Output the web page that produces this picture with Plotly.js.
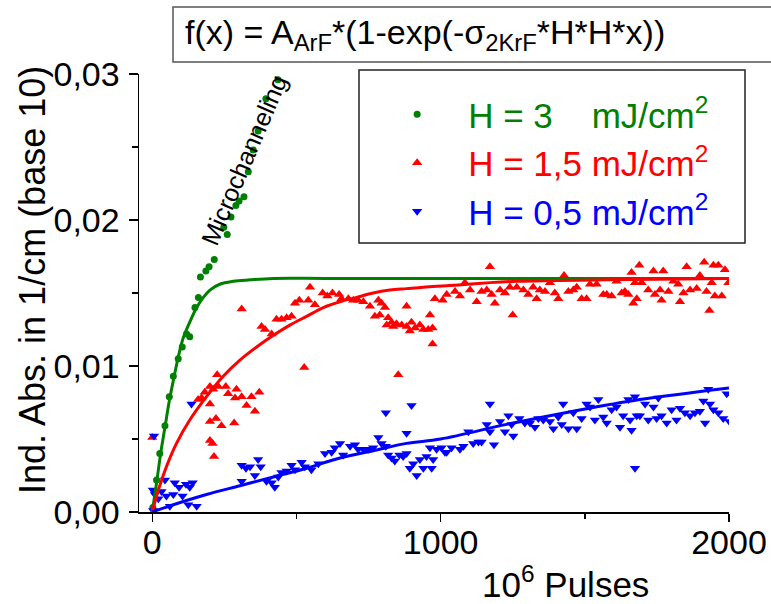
<!DOCTYPE html>
<html>
<head>
<meta charset="utf-8">
<script src="https://cdn.plot.ly/plotly-3.0.1.min.js"></script>
<style>html,body{margin:0;padding:0;background:#fff;}#chart{width:771px;height:604px;}</style>
</head>
<body>
<div id="chart"></div>
<script>
// ---- data ----
var seriesNames = ["H = 3\u00a0\u00a0\u00a0\u00a0mJ/cm<sup>2</sup>", "H = 1,5 mJ/cm<sup>2</sup>", "H = 0,5 mJ/cm<sup>2</sup>"];

var greenX = [2, 15, 26, 44, 59, 73, 90, 104, 119, 130, 148, 160, 167, 186, 197, 215, 248, 260, 273, 290, 301, 318, 333, 350, 367, 394, 436];
var greenY = [0.0003, 0.0022, 0.0040, 0.0059, 0.0079, 0.0093, 0.0105, 0.0113, 0.0122, 0.0120, 0.0140, 0.0147, 0.0161, 0.0165, 0.0168, 0.0173, 0.0195, 0.0190, 0.0202, 0.0210, 0.0213, 0.0216, 0.0233, 0.0248, 0.0261, 0.0283, 0.0296];

var redX = [0, 159, 171, 182, 200, 211, 225, 229, 255, 263, 287, 292, 310, 327, 344, 356, 371, 200, 200, 221, 240, 284, 200, 209, 214,
  310, 379, 391, 414, 431, 448, 466, 483, 527,
  495, 510, 541, 547, 564, 591, 607, 625, 648, 656, 680, 697, 714, 732, 755, 784, 795, 807, 772, 789, 813, 818, 830, 836, 847, 853, 865, 882, 882, 893, 899, 911, 928, 940, 957, 963, 972, 972, 980,
  1007, 1021, 1050, 1067, 1084, 1102, 1125, 1142, 1160, 1171, 1177, 1188, 1206, 1223, 1240, 1250, 1264, 1287, 1304, 1321, 1333, 1344, 1362, 1379, 1396, 1408, 1428, 1443, 1460, 1472, 1489, 1506, 1518, 1541, 1564, 1576, 1593, 1610, 1628, 1639, 1651, 1662, 1668, 1674, 1680, 1689, 1697, 1720, 1738, 1743, 1761, 1766, 1772, 1790, 1807, 1824, 1830, 1842, 1853, 1865, 1888, 1899, 1914, 1922, 1932, 1940, 1946, 1951, 1963, 1975, 1986, 1998];
var redY = [0.0051, 0.0077, 0.0078, 0.0082, 0.0086, 0.0084, 0.0094, 0.0086, 0.0086, 0.0081, 0.0078, 0.0084, 0.0079, 0.0073, 0.0079, 0.0069, 0.0082, 0.0074, 0.0062, 0.0064, 0.0059, 0.0061, 0.0049, 0.0047, 0.0038,
  0.0139, 0.0127, 0.0125, 0.0122, 0.0132, 0.0132, 0.0133, 0.0134, 0.0099,
  0.0143, 0.0145, 0.0145, 0.0154, 0.0142, 0.0150, 0.0148, 0.0150, 0.0149, 0.0146, 0.0146, 0.0145, 0.0145, 0.0144, 0.0141, 0.0145, 0.0143, 0.0140, 0.0134, 0.0135, 0.0128, 0.0133, 0.0130, 0.0127, 0.0129, 0.0094, 0.0128, 0.0141, 0.0127, 0.0124, 0.0130, 0.0126, 0.0128, 0.0125, 0.0125, 0.0135, 0.0126, 0.0115, 0.0146,
  0.0145, 0.0149, 0.0151, 0.0148, 0.0157, 0.0152, 0.0144, 0.0151, 0.0152, 0.0168, 0.0149, 0.0143, 0.0152, 0.0150, 0.0154, 0.0135, 0.0154, 0.0152, 0.0149, 0.0154, 0.0146, 0.0152, 0.0151, 0.0157, 0.0150, 0.0146, 0.0162, 0.0151, 0.0152, 0.0154, 0.0146, 0.0146, 0.0156, 0.0156, 0.0149, 0.0149, 0.0148, 0.0158, 0.0150, 0.0151, 0.0149, 0.0164, 0.0143, 0.0157, 0.0146, 0.0169, 0.0157, 0.0152, 0.0165, 0.0149, 0.0152, 0.0145, 0.0165, 0.0151, 0.0158, 0.0156, 0.0144, 0.0150, 0.0168, 0.0152, 0.0153, 0.0162, 0.0171, 0.0151, 0.0138, 0.0157, 0.0169, 0.0148, 0.0169, 0.0148, 0.0166, 0.0157];

var blueX = [2, 3, 6, 9, 21, 32, 44, 49, 61, 73, 78, 93, 105, 117, 125, 130, 136, 140, 154,
  310, 310, 325, 339, 356, 367, 376, 396, 414, 425, 437, 448, 466, 483, 495, 518, 529, 552, 576, 599, 622, 633, 651, 662, 686, 703, 714, 732, 749, 766, 784, 795, 810, 810, 818, 830, 841, 857, 870, 882, 882, 893, 899, 905, 917, 928, 940, 951, 963, 969, 974, 986, 1003, 1021,
  1015, 1038, 1067, 1079, 1096, 1113, 1131, 1142, 1160, 1171, 1171, 1185, 1206, 1223, 1235, 1246, 1252, 1273, 1292, 1310, 1327, 1339, 1356, 1379, 1391, 1408, 1420, 1425, 1443, 1460, 1472, 1489, 1506, 1518, 1535, 1547, 1564, 1576, 1593, 1610, 1622, 1633, 1651, 1657, 1662, 1674, 1674, 1680, 1691, 1709, 1720, 1738, 1749, 1755, 1766, 1784, 1801, 1818, 1830, 1847, 1865, 1882, 1899, 1911, 1917, 1928, 1934, 1946, 1963, 1980, 1992, 2001];
var blueY = [0.0015, 0.0001, 0.0052, 0.0012, 0.0009, 0.0014, 0.0022, 0.0011, 0.0004, 0.0012, 0.0020, 0.0017, 0.0011, 0.0019, 0.0005, 0.0017, 0.0074, 0.0020, 0.0004,
  0.0032, 0.0021, 0.0030, 0.0031, 0.0025, 0.0036, 0.0031, 0.0021, 0.0020, 0.0017, 0.0024, 0.0027, 0.0028, 0.0032, 0.0029, 0.0034, 0.0031, 0.0029, 0.0033, 0.0040, 0.0041, 0.0044, 0.0047, 0.0039, 0.0045, 0.0046, 0.0043, 0.0043, 0.0043, 0.0044, 0.0051, 0.0047, 0.0045, 0.0068, 0.0039, 0.0037, 0.0035, 0.0039, 0.0038, 0.0040, 0.0054, 0.0030, 0.0073, 0.0033, 0.0025, 0.0036, 0.0030, 0.0038, 0.0044, 0.0030, 0.0036, 0.0043, 0.0044, 0.0041,
  0.0041, 0.0044, 0.0043, 0.0045, 0.0055, 0.0047, 0.0048, 0.0048, 0.0060, 0.0055, 0.0074, 0.0046, 0.0062, 0.0055, 0.0066, 0.0060, 0.0052, 0.0064, 0.0061, 0.0061, 0.0058, 0.0064, 0.0063, 0.0062, 0.0057, 0.0065, 0.0060, 0.0074, 0.0057, 0.0068, 0.0057, 0.0064, 0.0074, 0.0072, 0.0063, 0.0077, 0.0065, 0.0061, 0.0070, 0.0072, 0.0058, 0.0066, 0.0077, 0.0063, 0.0056, 0.0079, 0.0030, 0.0066, 0.0066, 0.0074, 0.0063, 0.0072, 0.0064, 0.0078, 0.0066, 0.0061, 0.0070, 0.0063, 0.0071, 0.0068, 0.0066, 0.0068, 0.0069, 0.0076, 0.0061, 0.0084, 0.0074, 0.0070, 0.0068, 0.0064, 0.0081, 0.0062];

var greenFitX = [0, 15, 29, 44, 59, 73, 90, 107, 130, 154, 177, 200, 234, 281, 339, 420, 600, 1000, 1500, 2000];
var greenFitY = [0, 0.0020, 0.0040, 0.0058, 0.0076, 0.0090, 0.0106, 0.0119, 0.0130, 0.0140, 0.0147, 0.0152, 0.0156, 0.0158, 0.0159, 0.0160, 0.0160, 0.0160, 0.0160, 0.0160];
var redFitX = [0, 21, 49, 84, 130, 188, 246, 304, 362, 420, 477, 535, 593, 651, 709, 766, 824, 882, 940, 1021, 1264, 1576, 2000];
var redFitY = [0, 0.0015, 0.0031, 0.0047, 0.0063, 0.0079, 0.0093, 0.0104, 0.0113, 0.0121, 0.0128, 0.0134, 0.0140, 0.0144, 0.0147, 0.0150, 0.0152, 0.0153, 0.0154, 0.0155, 0.0158, 0.0159, 0.0160];
var blueFitX = [0, 73, 188, 304, 420, 535, 651, 766, 882, 1000, 1229, 1460, 1691, 2000];
var blueFitY = [0, 0.0005, 0.0012, 0.0018, 0.0024, 0.0030, 0.0037, 0.0042, 0.0047, 0.0050, 0.0060, 0.0069, 0.0077, 0.0085];

var yTickVals = [0, 0.01, 0.02, 0.03];
var xTickVals = [0, 1000, 2000];

var formulaText = "f(x) = A<sub>ArF</sub>*(1-exp(-\u03c3<sub>2KrF</sub>*H*H*x))";
var xTitleText = "10<sup>6</sup> Pulses";
var yTitleText = "Ind. Abs. in 1/cm (base 10)";
var noteText = "Microchanneling";

// ---- chart ----
var FONT = "Liberation Sans, Arial, Helvetica, sans-serif";
var GREEN = "#008000", RED = "#ff0000", BLUE = "#0000ff";
var colors = [GREEN, RED, BLUE];
function coloredName(i) { return '<span style="color:' + colors[i] + '">' + seriesNames[i] + '</span>'; }

var traces = [
  {x: greenX, y: greenY, type: "scatter", mode: "markers", name: coloredName(0), legendgroup: "g",
   marker: {symbol: "circle", size: 7, color: GREEN}},
  {x: redX, y: redY, type: "scatter", mode: "markers", name: coloredName(1), legendgroup: "r",
   marker: {symbol: "triangle-up", size: 9, color: RED}},
  {x: blueX, y: blueY, type: "scatter", mode: "markers", name: coloredName(2), legendgroup: "b",
   marker: {symbol: "triangle-down", size: 9, color: BLUE}},
  {x: greenFitX, y: greenFitY, type: "scatter", mode: "lines", showlegend: false,
   line: {color: GREEN, width: 3, shape: "spline"}},
  {x: redFitX, y: redFitY, type: "scatter", mode: "lines", showlegend: false,
   line: {color: RED, width: 3, shape: "spline"}},
  {x: blueFitX, y: blueFitY, type: "scatter", mode: "lines", showlegend: false,
   line: {color: BLUE, width: 3, shape: "spline"}}
];

var layout = {
  width: 771, height: 604,
  margin: {l: 139, r: 42, t: 74, b: 92, pad: 0},
  paper_bgcolor: "#fff", plot_bgcolor: "#fff",
  separators: ", ",
  font: {family: FONT, size: 34, color: "#000"},
  showlegend: true,
  xaxis: {
    range: [-46, 2000], showgrid: false, zeroline: false,
    showline: true, linecolor: "#000", linewidth: 1.5,
    ticks: "outside", ticklen: 8, tickwidth: 1.5, tickcolor: "#000",
    tickmode: "array", tickvals: xTickVals, ticktext: xTickVals.map(String),
    tickfont: {family: FONT, size: 34}, ticklabelstandoff: -8,
    minor: {ticks: "outside", ticklen: 5, tickwidth: 1.5, tickcolor: "#000", dtick: 500, tick0: 0, showgrid: false}
  },
  yaxis: {
    range: [0, 0.03], showgrid: false, zeroline: false,
    showline: true, linecolor: "#000", linewidth: 1.5,
    ticks: "outside", ticklen: 9, tickwidth: 1.5, tickcolor: "#000",
    tickmode: "array", tickvals: yTickVals, ticktext: yTickVals.map(function(v){return v.toFixed(2).replace(".", ",");}),
    tickfont: {family: FONT, size: 34}, ticklabelstandoff: 2,
    minor: {ticks: "outside", ticklen: 6, tickwidth: 1.5, tickcolor: "#000", dtick: 0.005, tick0: 0, showgrid: false}
  },
  legend: {
    x: 0.385, y: 0.975, xanchor: "left", yanchor: "top",
    bgcolor: "rgba(0,0,0,0)", borderwidth: 0,
    font: {family: FONT, size: 35},
    itemwidth: 92, tracegroupgap: 7, traceorder: "normal"
  },
  shapes: [
    {type: "rect", xref: "paper", yref: "paper", x0: (173-139)/590, x1: 1.2, y0: (512-62)/438, y1: (512-7)/438,
     line: {color: "#555", width: 1.5}, fillcolor: "rgba(0,0,0,0)", layer: "above"},
    {type: "rect", xref: "paper", yref: "paper", x0: (359-139)/590, x1: (745-139)/590, y0: (512-243)/438, y1: (512-70)/438,
     line: {color: "#222", width: 1.5}, fillcolor: "rgba(0,0,0,0)", layer: "above"}
  ],
  annotations: [
    {text: formulaText, xref: "paper", yref: "paper", x: (183-139)/590, y: (512-34)/438, xanchor: "left", yanchor: "middle",
     showarrow: false, font: {family: FONT, size: 34, color: "#000"}},
    {text: xTitleText, xref: "paper", yref: "paper", x: (565-139)/590, y: (512-582)/438, xanchor: "center", yanchor: "middle",
     showarrow: false, font: {family: FONT, size: 35, color: "#000"}},
    {text: yTitleText, xref: "paper", yref: "paper", x: (32-139)/590, y: (512-280)/438, xanchor: "center", yanchor: "middle",
     textangle: -90, showarrow: false, font: {family: FONT, size: 36, color: "#000"}},
    {text: noteText, xref: "paper", yref: "paper", x: (244-139)/590, y: (512-160)/438, xanchor: "center", yanchor: "middle",
     textangle: -67, showarrow: false, font: {family: FONT, size: 25, color: "#000"}}
  ]
};

Plotly.newPlot("chart", traces, layout, {displayModeBar: false, staticPlot: true});
</script>
</body>
</html>
